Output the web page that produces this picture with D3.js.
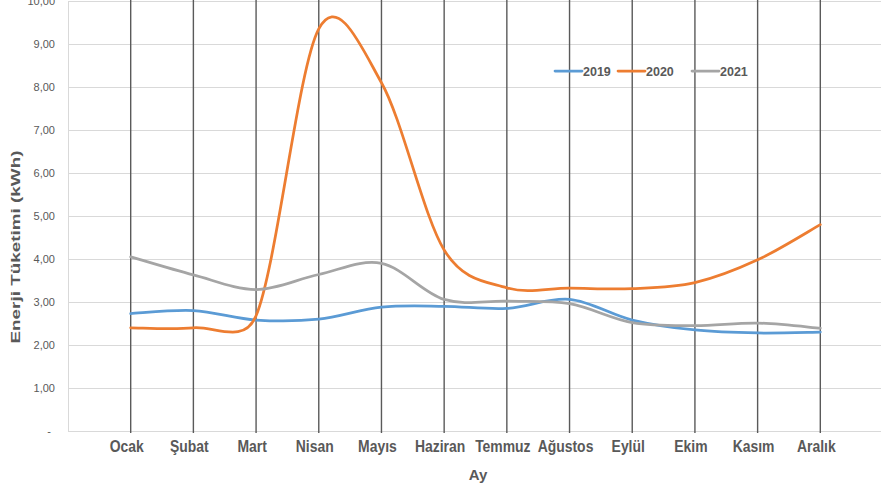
<!DOCTYPE html>
<html>
<head>
<meta charset="utf-8">
<script src="https://cdn.jsdelivr.net/npm/d3@7"></script>
<style>
  html, body { margin: 0; padding: 0; background: #ffffff; }
  svg { display: block; }
</style>
</head>
<body>
<svg id="chart" width="881" height="489"></svg>
<script>
const months = ["Ocak", "Şubat", "Mart", "Nisan", "Mayıs", "Haziran", "Temmuz", "Ağustos", "Eylül", "Ekim", "Kasım", "Aralık"];
const years = ["2019", "2020", "2021"];
const values2019 = [2.73, 2.80, 2.58, 2.60, 2.88, 2.90, 2.85, 3.06, 2.58, 2.35, 2.28, 2.30];
const values2020 = [2.40, 2.40, 2.68, 9.35, 8.10, 4.21, 3.33, 3.32, 3.31, 3.45, 3.98, 4.80];
const values2021 = [4.05, 3.63, 3.29, 3.64, 3.90, 3.06, 3.02, 2.96, 2.52, 2.45, 2.51, 2.39];
const yTickValues = [0, 1, 2, 3, 4, 5, 6, 7, 8, 9, 10];
const yTickLabels = ["-", "1,00", "2,00", "3,00", "4,00", "5,00", "6,00", "7,00", "8,00", "9,00", "10,00"];
const seriesColors = ["#5B9BD5", "#ED7D31", "#A5A5A5"];
const yTitle = "Enerji Tüketimi (kWh)";
const xTitle = "Ay";

(function () {
const series = [values2019, values2020, values2021];

const svg = d3.select("#chart");
const pLeft = 68, pRight = 883, pTop = 1, pBottom = 431;
const step = (pRight - pLeft) / (months.length + 1);

const x = d3.scalePoint().domain(months).range([pLeft + step, pRight - step]);
const y = d3.scaleLinear().domain([0, 10]).range([pBottom, pTop]);

const textColor = "#595959";

// horizontal gridlines
svg.append("g").selectAll("line").data(yTickValues).join("line")
  .attr("x1", pLeft).attr("x2", pRight)
  .attr("y1", d => y(d) + 0.5).attr("y2", d => y(d) + 0.5)
  .attr("stroke", "#d9d9d9").attr("stroke-width", 1);

// left axis line
svg.append("line")
  .attr("x1", pLeft + 0.5).attr("x2", pLeft + 0.5)
  .attr("y1", y(10)).attr("y2", y(0))
  .attr("stroke", "#d9d9d9").attr("stroke-width", 1);

// vertical category lines
svg.append("g").selectAll("line").data(months).join("line")
  .attr("x1", d => x(d)).attr("x2", d => x(d))
  .attr("y1", 0).attr("y2", y(0) + 2)
  .attr("stroke", "#5a5a5a").attr("stroke-width", 1.4);

// y tick labels
svg.append("g").selectAll("text").data(yTickValues).join("text")
  .attr("x", (d, i) => i === 0 ? 51 : 55)
  .attr("y", d => y(d))
  .attr("dy", "0.35em")
  .attr("text-anchor", "end")
  .attr("font-family", "'Liberation Sans', Arial, sans-serif")
  .attr("font-size", 11)
  .attr("fill", textColor)
  .text((d, i) => yTickLabels[i]);

// x tick labels (condensed to match the narrow bold face)
svg.append("g").selectAll("text").data(months).join("text")
  .attr("x", d => x(d) - 4)
  .attr("y", 452)
  .attr("text-anchor", "middle")
  .attr("font-family", "'Liberation Sans', Arial, sans-serif")
  .attr("font-weight", "bold")
  .attr("font-size", 16)
  .attr("fill", textColor)
  .text(d => d)
  .each(function () {
    const w = this.getComputedTextLength();
    d3.select(this).attr("textLength", w * 0.87).attr("lengthAdjust", "spacingAndGlyphs");
  });

// axis titles
svg.append("text")
  .attr("transform", "translate(20,247) rotate(-90)")
  .attr("text-anchor", "middle")
  .attr("font-family", "'Liberation Sans', Arial, sans-serif")
  .attr("font-weight", "bold")
  .attr("font-size", 13)
  .attr("textLength", 193)
  .attr("lengthAdjust", "spacingAndGlyphs")
  .attr("fill", textColor)
  .text(yTitle);

svg.append("text")
  .attr("x", 478).attr("y", 480)
  .attr("text-anchor", "middle")
  .attr("font-family", "'Liberation Sans', Arial, sans-serif")
  .attr("font-weight", "bold")
  .attr("font-size", 15)
  .attr("fill", textColor)
  .text(xTitle);

// Excel-like smoothing
function smoothPath(pts) {
  const p = d3.path();
  const dist = (a, b) => Math.hypot(b[0] - a[0], b[1] - a[1]);
  p.moveTo(pts[0][0], pts[0][1]);
  for (let i = 0; i < pts.length - 1; i++) {
    const p0 = pts[i - 1] || pts[i];
    const p1 = pts[i];
    const p2 = pts[i + 1];
    const p3 = pts[i + 2] || pts[i + 1];
    const d12 = dist(p1, p2);
    const d02 = dist(p0, p2) || 1;
    const d13 = dist(p1, p3) || 1;
    const f0 = Math.min(1 / 6, d12 / (2 * d02));
    const f3 = Math.min(1 / 6, d12 / (2 * d13));
    const c1 = [p1[0] + (p2[0] - p0[0]) * f0, p1[1] + (p2[1] - p0[1]) * f0];
    const c2 = [p2[0] - (p3[0] - p1[0]) * f3, p2[1] - (p3[1] - p1[1]) * f3];
    p.bezierCurveTo(c1[0], c1[1], c2[0], c2[1], p2[0], p2[1]);
  }
  return p.toString();
}

svg.append("g").selectAll("path").data(series).join("path")
  .attr("d", vals => smoothPath(vals.map((v, i) => [x(months[i]), y(v)])))
  .attr("fill", "none")
  .attr("stroke", (d, i) => seriesColors[i])
  .attr("stroke-width", 2.75)
  .attr("stroke-linecap", "round")
  .attr("stroke-linejoin", "round");

// legend
const legendX = [555, 618, 692];
const lg = svg.append("g").selectAll("g").data(years).join("g")
  .attr("transform", (d, i) => `translate(${legendX[i]},71)`);
lg.append("line")
  .attr("x1", 0).attr("x2", 27).attr("y1", 0).attr("y2", 0)
  .attr("stroke", (d, i) => seriesColors[i]).attr("stroke-width", 2.75)
  .attr("stroke-linecap", "round");
lg.append("text")
  .attr("x", 28).attr("y", 0).attr("dy", "0.36em")
  .attr("font-family", "'Liberation Sans', Arial, sans-serif")
  .attr("font-weight", "bold")
  .attr("font-size", 12.5)
  .attr("fill", textColor)
  .text(d => d);
})();
</script>
</body>
</html>
